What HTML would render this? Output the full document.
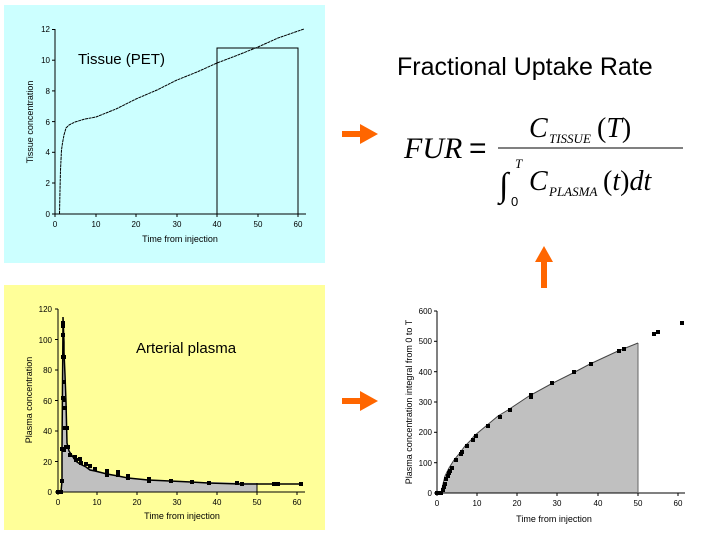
<!DOCTYPE html>
<html><head><meta charset="utf-8"><style>
body{margin:0;background:#fff;width:706px;height:549px;overflow:hidden}
svg{display:block}
text{font-family:"Liberation Sans",Arial,sans-serif}
.t{font-size:8px;fill:#000}
.m{font-family:"Liberation Serif","Times New Roman",serif;font-style:italic}
</style></head><body>
<svg width="706" height="549" viewBox="0 0 706 549">
<!-- Panel 1 -->
<rect x="4" y="5" width="321" height="258" fill="#ccffff"/>
<g stroke="#000" stroke-width="1" fill="none">
<line x1="55" y1="29" x2="55" y2="214"/>
<line x1="55" y1="214" x2="306" y2="214"/>
<rect x="217" y="48" width="81" height="166"/>
</g>
<g stroke="#000" stroke-width="1">
<line x1="52" y1="214" x2="55" y2="214"/><line x1="52" y1="183" x2="55" y2="183"/><line x1="52" y1="152.3" x2="55" y2="152.3"/><line x1="52" y1="121.6" x2="55" y2="121.6"/><line x1="52" y1="90.9" x2="55" y2="90.9"/><line x1="52" y1="60.2" x2="55" y2="60.2"/><line x1="52" y1="29.5" x2="55" y2="29.5"/>
<line x1="55" y1="214" x2="55" y2="217"/><line x1="96" y1="214" x2="96" y2="217"/><line x1="136" y1="214" x2="136" y2="217"/><line x1="177" y1="214" x2="177" y2="217"/><line x1="217" y1="214" x2="217" y2="217"/><line x1="258" y1="214" x2="258" y2="217"/><line x1="298" y1="214" x2="298" y2="217"/>
</g>
<g class="t" text-anchor="end">
<text x="50" y="217">0</text><text x="50" y="186">2</text><text x="50" y="155">4</text><text x="50" y="125">6</text><text x="50" y="94">8</text><text x="50" y="63">10</text><text x="50" y="32">12</text>
</g>
<g class="t" text-anchor="middle">
<text x="55" y="227">0</text><text x="96" y="227">10</text><text x="136" y="227">20</text><text x="177" y="227">30</text><text x="217" y="227">40</text><text x="258" y="227">50</text><text x="298" y="227">60</text>
<text x="180" y="242" font-size="9">Time from injection</text>
<text transform="translate(33,122) rotate(-90)" font-size="9">Tissue concentration</text>
</g>
<text x="78" y="64" font-size="15">Tissue (PET)</text>
<polyline fill="none" stroke="#000" stroke-width="1" stroke-dasharray="3,0.6" points="59.5,214 60,190 60.5,170 61.5,150 62.5,143 64,135 66,128 69,125 75,122 85,119 96,117 116,109 136,99 157,90 177,80 197,72 217,63 238,55 258,47 278,38 304,29"/>

<!-- Panel 2 -->
<rect x="4" y="285" width="321" height="245" fill="#ffff99"/>
<polygon fill="#c0c0c0" points="62,492 62,449 63,324 64,349 65,384 67,443 70,451 75,460 80,464 87,467 95,470 106,474 120,477 130,478 150,480 168,481 190,482 210,482 257,483 257,492"/>
<g stroke="#000" stroke-width="1" fill="none">
<line x1="58" y1="309" x2="58" y2="492"/>
<line x1="58" y1="492" x2="305" y2="492"/>
<line x1="257" y1="483" x2="257" y2="492"/>
<polyline stroke-width="1.5" points="58,492 61,492 62,481 62,449 63,324 63,317 64,342 64,352 65,375 66,402 67,443 69,451 71,454 75,460 77,462 80,464 86,467 90,470 95,471 107,474 118,476 128,478 148,480 170,481 191,482 208,483 240,484 254,484 257,484 302,484"/>
</g>
<g fill="#000">
<rect x="56" y="490" width="4" height="4"/><rect x="59" y="490" width="4" height="4"/><rect x="60" y="479" width="4" height="4"/><rect x="60" y="447" width="4" height="4"/>
<rect x="61" y="321" width="4" height="5"/><rect x="61" y="324" width="4" height="4"/><rect x="61" y="333" width="4" height="4"/><rect x="61" y="355" width="4" height="4"/><rect x="62" y="355" width="4" height="4"/><rect x="61" y="396" width="4" height="4"/><rect x="62" y="380" width="4" height="4"/><rect x="62" y="398" width="4" height="4"/><rect x="63" y="406" width="4" height="4"/><rect x="63" y="426" width="4" height="4"/><rect x="65" y="426" width="4" height="4"/><rect x="64" y="445" width="4" height="4"/><rect x="66" y="445" width="4" height="4"/><rect x="62" y="448" width="4" height="4"/>
<rect x="68" y="453" width="4" height="4"/><rect x="73" y="455" width="4" height="4"/><rect x="74" y="458" width="4" height="4"/><rect x="78" y="457" width="4" height="4"/><rect x="79" y="461" width="4" height="4"/><rect x="84" y="462" width="4" height="4"/><rect x="88" y="464" width="4" height="4"/><rect x="93" y="467" width="4" height="4"/><rect x="105" y="473" width="4" height="4"/><rect x="105" y="469" width="4" height="4"/><rect x="116" y="473" width="4" height="4"/><rect x="116" y="470" width="4" height="4"/><rect x="126" y="474" width="4" height="4"/><rect x="126" y="476" width="4" height="4"/><rect x="147" y="477" width="4" height="4"/><rect x="147" y="479" width="4" height="4"/><rect x="169" y="479" width="4" height="4"/><rect x="190" y="480" width="4" height="4"/><rect x="207" y="481" width="4" height="4"/><rect x="235" y="481" width="4" height="4"/><rect x="240" y="482" width="4" height="4"/><rect x="272" y="482" width="4" height="4"/><rect x="276" y="482" width="4" height="4"/><rect x="299" y="482" width="4" height="4"/>
</g>
<g stroke="#000">
<line x1="55" y1="492" x2="58" y2="492"/><line x1="55" y1="461.5" x2="58" y2="461.5"/><line x1="55" y1="431" x2="58" y2="431"/><line x1="55" y1="400.5" x2="58" y2="400.5"/><line x1="55" y1="370" x2="58" y2="370"/><line x1="55" y1="339.5" x2="58" y2="339.5"/><line x1="55" y1="309" x2="58" y2="309"/>
<line x1="58" y1="492" x2="58" y2="495"/><line x1="97" y1="492" x2="97" y2="495"/><line x1="137" y1="492" x2="137" y2="495"/><line x1="177" y1="492" x2="177" y2="495"/><line x1="217" y1="492" x2="217" y2="495"/><line x1="257" y1="492" x2="257" y2="495"/><line x1="297" y1="492" x2="297" y2="495"/>
</g>
<g class="t" text-anchor="end">
<text x="52" y="495">0</text><text x="52" y="465">20</text><text x="52" y="434">40</text><text x="52" y="404">60</text><text x="52" y="373">80</text><text x="52" y="343">100</text><text x="52" y="312">120</text>
</g>
<g class="t" text-anchor="middle">
<text x="58" y="505">0</text><text x="97" y="505">10</text><text x="137" y="505">20</text><text x="177" y="505">30</text><text x="217" y="505">40</text><text x="257" y="505">50</text><text x="297" y="505">60</text>
<text x="182" y="519" font-size="9">Time from injection</text>
<text transform="translate(32,400) rotate(-90)" font-size="9">Plasma concentration</text>
</g>
<text x="136" y="353" font-size="15">Arterial plasma</text>

<!-- Panel 3 -->
<polygon fill="#c0c0c0" points="441,493 443,484 445,476 449,468 454,460 459,454 465,446 471,440 474,436 486,426 498,416 508,410 529,396 551,384 573,373 590,364 618,351 638,343 638,493"/>
<g stroke="#000" fill="none">
<line x1="437" y1="311" x2="437" y2="493"/>
<line x1="437" y1="493" x2="685" y2="493"/>
<line x1="638" y1="343" x2="638" y2="493" stroke="#666"/>
<polyline stroke="#444" points="437,493 441,493 443,484 445,476 449,468 454,460 459,454 465,446 471,440 474,436 486,426 498,416 508,410 529,396 551,384 573,373 590,364 618,351 638,343"/>
</g>
<g fill="#000">
<rect x="435" y="491" width="4" height="4"/><rect x="439" y="491" width="4" height="4"/><rect x="441" y="488" width="4" height="4"/><rect x="442" y="485" width="4" height="4"/><rect x="443" y="482" width="4" height="4"/><rect x="444" y="477" width="4" height="4"/><rect x="446" y="474" width="4" height="4"/><rect x="447" y="471" width="4" height="4"/><rect x="448" y="469" width="4" height="4"/><rect x="450" y="466" width="4" height="4"/><rect x="454" y="458" width="4" height="4"/><rect x="459" y="452" width="4" height="4"/><rect x="460" y="450" width="4" height="4"/><rect x="465" y="444" width="4" height="4"/><rect x="471" y="438" width="4" height="4"/><rect x="474" y="434" width="4" height="4"/><rect x="486" y="424" width="4" height="4"/><rect x="498" y="415" width="4" height="4"/><rect x="508" y="408" width="4" height="4"/><rect x="529" y="395" width="4" height="4"/><rect x="529" y="393" width="4" height="4"/><rect x="550" y="381" width="4" height="4"/><rect x="572" y="370" width="4" height="4"/><rect x="589" y="362" width="4" height="4"/><rect x="617" y="349" width="4" height="4"/><rect x="622" y="347" width="4" height="4"/><rect x="652" y="332" width="4" height="4"/><rect x="656" y="330" width="4" height="4"/><rect x="680" y="321" width="4" height="4"/>
</g>
<g stroke="#000">
<line x1="434" y1="493" x2="437" y2="493"/><line x1="434" y1="462.7" x2="437" y2="462.7"/><line x1="434" y1="432.3" x2="437" y2="432.3"/><line x1="434" y1="402" x2="437" y2="402"/><line x1="434" y1="371.7" x2="437" y2="371.7"/><line x1="434" y1="341.3" x2="437" y2="341.3"/><line x1="434" y1="311" x2="437" y2="311"/>
<line x1="437" y1="493" x2="437" y2="496"/><line x1="477" y1="493" x2="477" y2="496"/><line x1="517" y1="493" x2="517" y2="496"/><line x1="557" y1="493" x2="557" y2="496"/><line x1="598" y1="493" x2="598" y2="496"/><line x1="638" y1="493" x2="638" y2="496"/><line x1="678" y1="493" x2="678" y2="496"/>
</g>
<g class="t" text-anchor="end">
<text x="432" y="496">0</text><text x="432" y="466">100</text><text x="432" y="435">200</text><text x="432" y="405">300</text><text x="432" y="375">400</text><text x="432" y="344">500</text><text x="432" y="314">600</text>
</g>
<g class="t" text-anchor="middle">
<text x="437" y="506">0</text><text x="477" y="506">10</text><text x="517" y="506">20</text><text x="557" y="506">30</text><text x="598" y="506">40</text><text x="638" y="506">50</text><text x="678" y="506">60</text>
<text x="554" y="522" font-size="9">Time from injection</text>
<text transform="translate(412,402) rotate(-90)" font-size="9">Plasma concentration integral from 0 to T</text>
</g>

<!-- Formula -->
<text x="397" y="75" font-size="25">Fractional Uptake Rate</text>
<g fill="#ff6600">
<polygon points="342,131 360,131 360,124 378,134 360,144 360,137 342,137"/>
<polygon points="342,398 360,398 360,391 378,401 360,411 360,404 342,404"/>
<polygon points="541,288 547,288 547,262 553,262 544,246 535,262 541,262"/>
</g>
<text x="404" y="158" class="m" font-size="30">FUR</text>
<text x="469" y="158" font-family="Liberation Serif,serif" font-size="30">=</text>
<line x1="498" y1="148" x2="683" y2="148" stroke="#000" stroke-width="1"/>
<text x="529" y="137" class="m" font-size="28">C</text>
<text x="549" y="143" class="m" font-size="13">TISSUE</text>
<text x="597" y="137" class="m" font-size="28"><tspan font-style="normal">(</tspan>T<tspan font-style="normal">)</tspan></text>
<text x="499" y="196" class="m" font-size="34" font-style="normal">∫</text>
<text x="515" y="168" class="m" font-size="13">T</text>
<text x="511" y="206" font-family="Liberation Serif,serif" font-size="13">0</text>
<text x="529" y="190" class="m" font-size="28">C</text>
<text x="549" y="196" class="m" font-size="13">PLASMA</text>
<text x="603" y="190" class="m" font-size="28"><tspan font-style="normal">(</tspan>t<tspan font-style="normal">)</tspan>dt</text>
</svg>
</body></html>
